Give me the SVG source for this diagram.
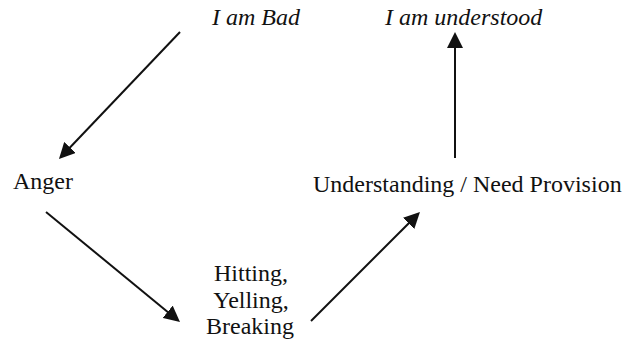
<svg xmlns="http://www.w3.org/2000/svg" width="624" height="340" viewBox="0 0 624 340">
  <defs>
    <style>
      .lbl { font-family: "Liberation Serif", "Times New Roman", serif; font-size: 24px; fill: #111; }
      .it { font-style: italic; }
      .mid { text-anchor: middle; }
      .edge { stroke: #111; stroke-width: 2; fill: none; }
    </style>
    <marker id="head" markerUnits="userSpaceOnUse" markerWidth="16" markerHeight="16" refX="8" refY="8" orient="auto">
      <path d="M0,0 L16,8 L0,16 Z" fill="#111"/>
    </marker>
  </defs>
  <rect width="624" height="340" fill="#fff"/>

  <g id="node-bad">
    <text class="lbl it" x="212" y="25">I am Bad</text>
  </g>
  <g id="node-anger">
    <text class="lbl" x="13" y="189">Anger</text>
  </g>
  <g id="node-acting-out">
    <text class="lbl mid" x="251" y="281">Hitting,</text>
    <text class="lbl mid" x="251" y="308">Yelling,</text>
    <text class="lbl mid" x="250" y="334">Breaking</text>
  </g>
  <g id="node-understanding">
    <text class="lbl" x="313" y="192">Understanding / Need Provision</text>
  </g>
  <g id="node-understood">
    <text class="lbl it" x="385" y="25">I am understood</text>
  </g>

  <g id="connectors">
    <line class="edge" x1="180" y1="32" x2="64.5" y2="153.2" marker-end="url(#head)"/>
    <line class="edge" x1="46" y1="212" x2="173.8" y2="316.9" marker-end="url(#head)"/>
    <line class="edge" x1="311" y1="321" x2="414.3" y2="217.7" marker-end="url(#head)"/>
    <line class="edge" x1="455" y1="158" x2="455" y2="40" marker-end="url(#head)"/>
  </g>
</svg>
